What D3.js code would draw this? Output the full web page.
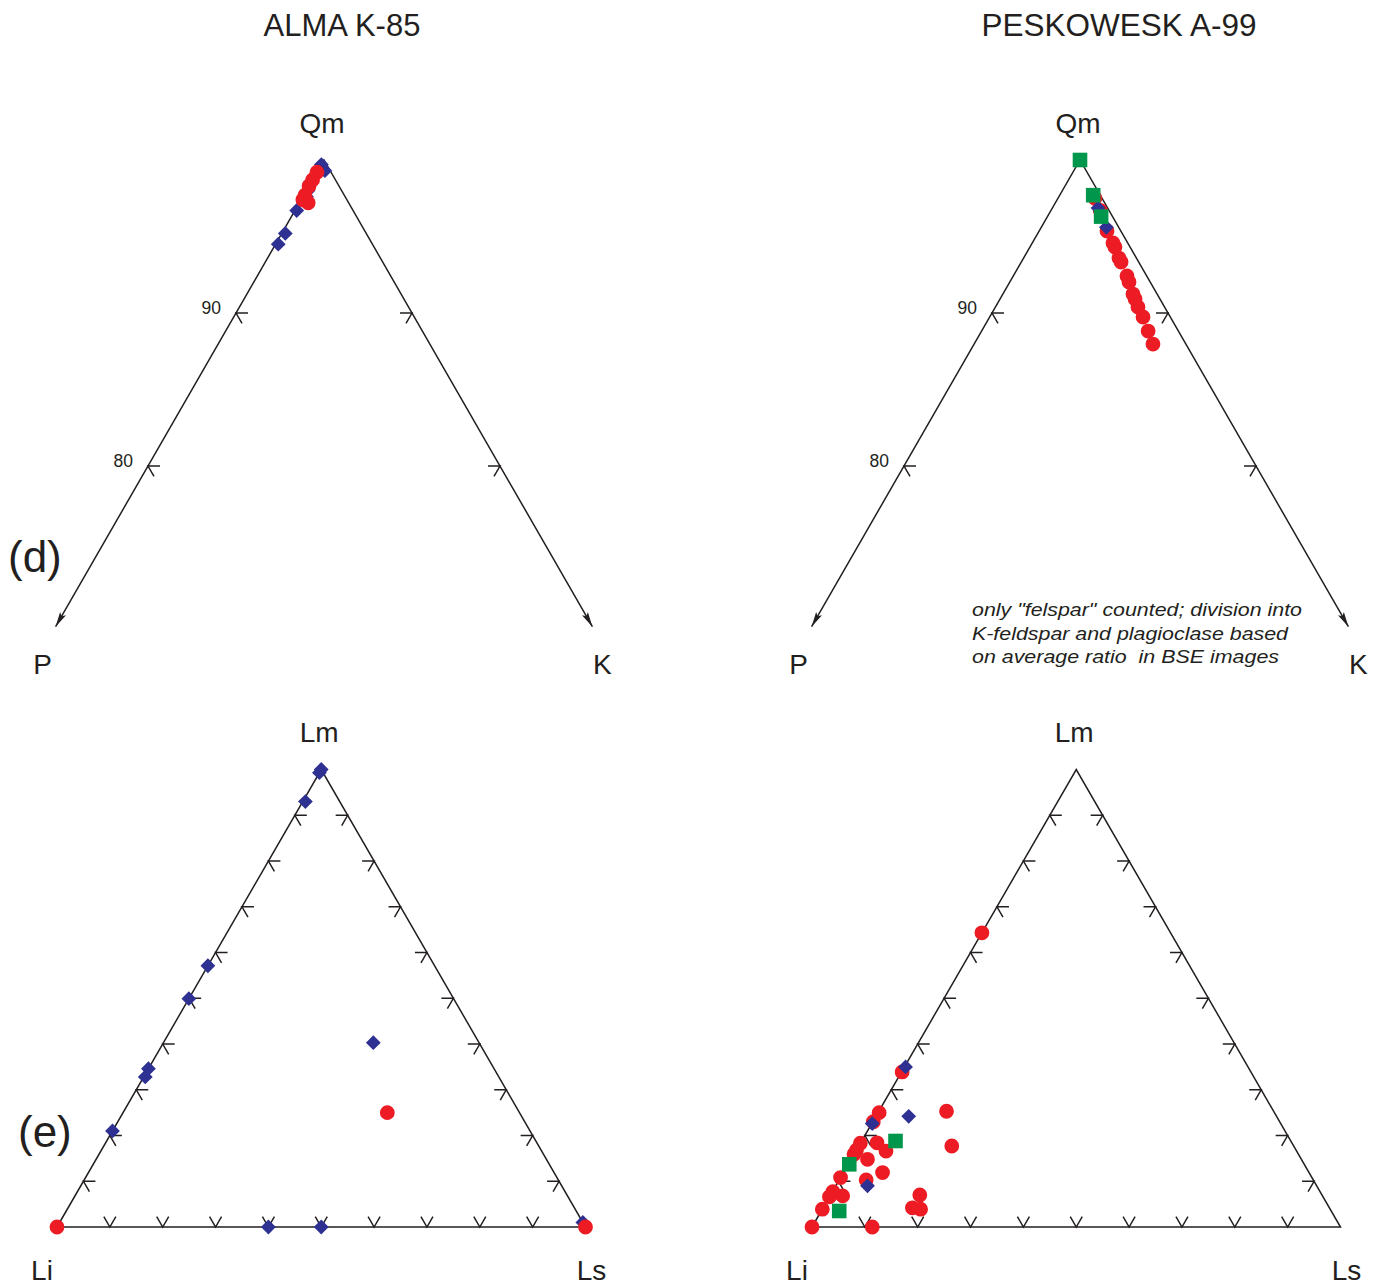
<!DOCTYPE html>
<html><head><meta charset="utf-8">
<script src="https://cdn.jsdelivr.net/npm/d3@7"></script>
<style>
body{margin:0;background:#fff}
svg{display:block}
text{font-family:"Liberation Sans",Arial,Helvetica,sans-serif;fill:#231F20}
</style>
</head><body>
<svg id="c" width="1377" height="1287"></svg>
<script>
// ---------- labels ----------
const titles = ["ALMA K-85", "PESKOWESK A-99"];
const panelLabels = ["(d)", "(e)"];
const qpkVertices = ["Qm", "P", "K"];
const lVertices = ["Lm", "Li", "Ls"];
const qmTicks = [90, 80];
const qmTickLabels = ["90", "80"];
const lTicks = [10, 20, 30, 40, 50, 60, 70, 80, 90];
const noteLines = [
  "only \"felspar\" counted; division into",
  "K-feldspar and plagioclase based",
  "on average ratio\u00A0\u00A0in BSE images"
];
const noteWidths = [330, 316, 307];

// ---------- data: [Qm, P, K] ----------
const almaQPK_diamond = [[99.7,0.3,0],[99.3,0.3,0.4],[99.0,1.0,0],[98.0,1.9,0.1],[97.6,2.2,0.2],[96.7,3.2,0.1],[95.2,4.6,0.2],[94.5,5.35,0.15]];
const almaQPK_circle = [[99.2,0.8,0],[98.7,1.3,0],[98.3,1.7,0],[97.7,2.23,0.07],[97.4,2.5,0.1],[97.2,2.3,0.5]];
const peskQPK_circle = [[97.5,0.4,2.1],[96.7,0.5,2.8],[95.36,0.79,3.86],[94.58,0.84,4.59],[94.31,0.86,4.83],[93.59,0.99,5.42],[93.33,1.0,5.67],[92.42,1.12,6.46],[92.03,1.2,6.77],[91.24,1.37,7.39],[90.92,1.41,7.67],[90.39,1.51,8.1],[89.74,1.55,8.71],[88.82,1.72,9.46],[87.97,1.87,10.16]];
const peskQPK_diamond = [[96.86,0.55,2.6],[95.6,0.7,3.7]];
const peskQPK_square = [[100,0,0],[97.7,0.4,1.9],[96.3,0.65,3.05]];

// ---------- data: [Lm, Li, Ls] ----------
const almaL_diamond = [[100,0,0],[99.3,0.7,0],[93,6.5,0.5],[57.1,42.9,0],[49.9,50.1,0],[34.6,65.4,0],[32.8,66.9,0.3],[21,79,0],[0,60,40],[0,50,50],[40.3,20,39.7],[1,0,99]];
const almaL_circle = [[0,100,0],[25,25,50],[0,0,100]];
const peskL_circle = [[0,100,0],[0,88.6,11.4],[3.9,96.1,0],[6.6,93.4,0],[7.7,92.2,0.1],[6.8,90.8,2.4],[10.8,89.2,0],[14.8,82.1,3.1],[16.8,83.2,0],[15.9,84.1,0],[18.3,81.7,0],[18.4,78.5,3.1],[16.6,77.7,5.7],[11.9,80.7,7.4],[10.3,84.6,5.1],[25.0,74.8,0.2],[23.0,76.9,0.1],[25.3,61.9,12.8],[17.7,64.7,17.6],[7.0,76.1,16.9],[4.2,78.9,16.9],[3.9,77.5,18.6],[64.3,35.7,0],[33.9,66.0,0.1]];
const peskL_diamond = [[22.6,77.3,0.1],[24.2,69.6,6.2],[9.0,85.0,6.0],[35.0,64.8,0.2]];
const peskL_square = [[13.7,86.1,0.2],[18.8,74.8,6.4],[3.5,93.1,3.4]];

// ---------- styling ----------
const INK = "#231F20", RED = "#ED1C24", BLUE = "#2E3192", GREEN = "#00964B";
const svg = d3.select("#c");
const ARM = 12;
const S3 = Math.sqrt(3) / 2;

function ticksAt(g, pts, dirs) {
  pts.forEach(p => {
    const d = `M${p[0] + dirs[0][0]*ARM},${p[1] + dirs[0][1]*ARM}L${p[0]},${p[1]}L${p[0] + dirs[1][0]*ARM},${p[1] + dirs[1][1]*ARM}`;
    g.append("path").attr("d", d).attr("fill", "none").attr("stroke", INK).attr("stroke-width", 1.5);
  });
}

function drawMarkers(g, data, proj, kind, color) {
  const sel = g.append("g").selectAll("path").data(data).join("path")
    .attr("fill", color)
    .attr("transform", d => { const p = proj(d); return `translate(${p[0]},${p[1]})`; });
  if (kind === "circle") sel.attr("d", "M-7.4,0A7.4,7.4 0 1,0 7.4,0A7.4,7.4 0 1,0 -7.4,0");
  else if (kind === "diamond") sel.attr("d", "M0,-7.4L7.4,0L0,7.4L-7.4,0Z");
  else sel.attr("d", "M-7.3,-7.3H7.3V7.3H-7.3Z");
}

function arrowHead(g, from, to) {
  const dx = to[0]-from[0], dy = to[1]-from[1], L = Math.hypot(dx, dy);
  const ux = dx/L, uy = dy/L, px = -uy, py = ux;
  const hl = 15, hw = 3.4;
  const bx = to[0]-ux*hl, by = to[1]-uy*hl;
  g.append("path").attr("d", `M${to[0]},${to[1]}L${bx+px*hw},${by+py*hw}L${to[0]-ux*hl*0.8},${to[1]-uy*hl*0.8}L${bx-px*hw},${by-py*hw}Z`).attr("fill", INK);
}

// ---------- top Qm-P-K panels ----------
function qpkPanel(apexX, showNote) {
  const g = svg.append("g");
  const x = d3.scaleLinear().domain([-15, 15]).range([apexX - 264, apexX + 264]);
  const y = d3.scaleLinear().domain([100, 70]).range([160, 619]);
  const proj = d => [x((d[2] - d[1]) / 2), y(d[0])];
  const qEnd = 69.5;
  const apex = proj([100, 0, 0]);
  const pEnd = proj([qEnd, 100 - qEnd, 0]);
  const kEnd = proj([qEnd, 0, 100 - qEnd]);
  const axis = g.append("g");
  axis.append("path").attr("d", `M${pEnd[0]},${pEnd[1]}L${apex[0]},${apex[1]}L${kEnd[0]},${kEnd[1]}`)
    .attr("fill", "none").attr("stroke", INK).attr("stroke-width", 1.5).attr("stroke-linejoin", "miter");
  arrowHead(axis, apex, pEnd);
  arrowHead(axis, apex, kEnd);
  const leftPts = qmTicks.map(t => proj([t, 100 - t, 0]));
  const rightPts = qmTicks.map(t => proj([t, 0, 100 - t]));
  ticksAt(axis, leftPts, [[1, 0], [0.5, S3]]);
  ticksAt(axis, rightPts, [[-1, 0], [-0.5, S3]]);
  leftPts.forEach((p, i) => axis.append("text").attr("x", p[0] - 15).attr("y", p[1] + 0.5)
    .attr("text-anchor", "end").attr("font-size", 17.5).text(qmTickLabels[i]));
  axis.append("text").attr("x", apex[0] - 2).attr("y", 133).attr("text-anchor", "middle").attr("font-size", 28).text(qpkVertices[0]);
  axis.append("text").attr("x", pEnd[0] - 13).attr("y", 674).attr("text-anchor", "middle").attr("font-size", 28).text(qpkVertices[1]);
  axis.append("text").attr("x", kEnd[0] + 10).attr("y", 674).attr("text-anchor", "middle").attr("font-size", 28).text(qpkVertices[2]);
  if (showNote) {
    noteLines.forEach((s, i) => axis.append("text").attr("x", 972).attr("y", 616 + i * 23.5)
      .attr("font-size", 18.5).attr("font-style", "italic")
      .attr("textLength", noteWidths[i]).attr("lengthAdjust", "spacingAndGlyphs").text(s));
  }
  return { g, proj };
}

// ---------- bottom Lm-Li-Ls panels ----------
function lPanel(x0) {
  const g = svg.append("g");
  const x = d3.scaleLinear().domain([0, 100]).range([x0, x0 + 528.5]);
  const y = d3.scaleLinear().domain([0, 100]).range([1227, 769.5]);
  const proj = d => [x(d[2] + d[0] / 2), y(d[0])];
  const lm = proj([100, 0, 0]), li = proj([0, 100, 0]), ls = proj([0, 0, 100]);
  const axis = g.append("g");
  axis.append("path").attr("d", `M${li[0]},${li[1]}L${lm[0]},${lm[1]}L${ls[0]},${ls[1]}Z`)
    .attr("fill", "none").attr("stroke", INK).attr("stroke-width", 1.5);
  ticksAt(axis, lTicks.map(t => proj([t, 100 - t, 0])), [[1, 0], [0.5, S3]]);
  ticksAt(axis, lTicks.map(t => proj([t, 0, 100 - t])), [[-1, 0], [-0.5, S3]]);
  ticksAt(axis, lTicks.map(t => proj([0, 100 - t, t])), [[-0.5, -S3], [0.5, -S3]]);
  axis.append("text").attr("x", lm[0] - 2).attr("y", 742).attr("text-anchor", "middle").attr("font-size", 28).text(lVertices[0]);
  axis.append("text").attr("x", li[0] - 15).attr("y", 1280).attr("text-anchor", "middle").attr("font-size", 28).text(lVertices[1]);
  axis.append("text").attr("x", ls[0] + 6).attr("y", 1280).attr("text-anchor", "middle").attr("font-size", 28).text(lVertices[2]);
  return { g, proj };
}

// titles
svg.append("text").attr("x", 342).attr("y", 36).attr("text-anchor", "middle").attr("font-size", 31).text(titles[0]);
svg.append("text").attr("x", 1119).attr("y", 36).attr("text-anchor", "middle").attr("font-size", 31.5).text(titles[1]);
svg.append("text").attr("x", 8).attr("y", 572).attr("font-size", 44).text(panelLabels[0]);
svg.append("text").attr("x", 18).attr("y", 1147).attr("font-size", 44).text(panelLabels[1]);

const tl = qpkPanel(324, false);
drawMarkers(tl.g, almaQPK_diamond, tl.proj, "diamond", BLUE);
drawMarkers(tl.g, almaQPK_circle, tl.proj, "circle", RED);

const tr = qpkPanel(1080, true);
drawMarkers(tr.g, peskQPK_circle, tr.proj, "circle", RED);
drawMarkers(tr.g, peskQPK_diamond, tr.proj, "diamond", BLUE);
drawMarkers(tr.g, peskQPK_square, tr.proj, "square", GREEN);

const bl = lPanel(57);
drawMarkers(bl.g, almaL_diamond, bl.proj, "diamond", BLUE);
drawMarkers(bl.g, almaL_circle, bl.proj, "circle", RED);

const br = lPanel(812);
drawMarkers(br.g, peskL_circle, br.proj, "circle", RED);
drawMarkers(br.g, peskL_diamond, br.proj, "diamond", BLUE);
drawMarkers(br.g, peskL_square, br.proj, "square", GREEN);
</script>
</body></html>
